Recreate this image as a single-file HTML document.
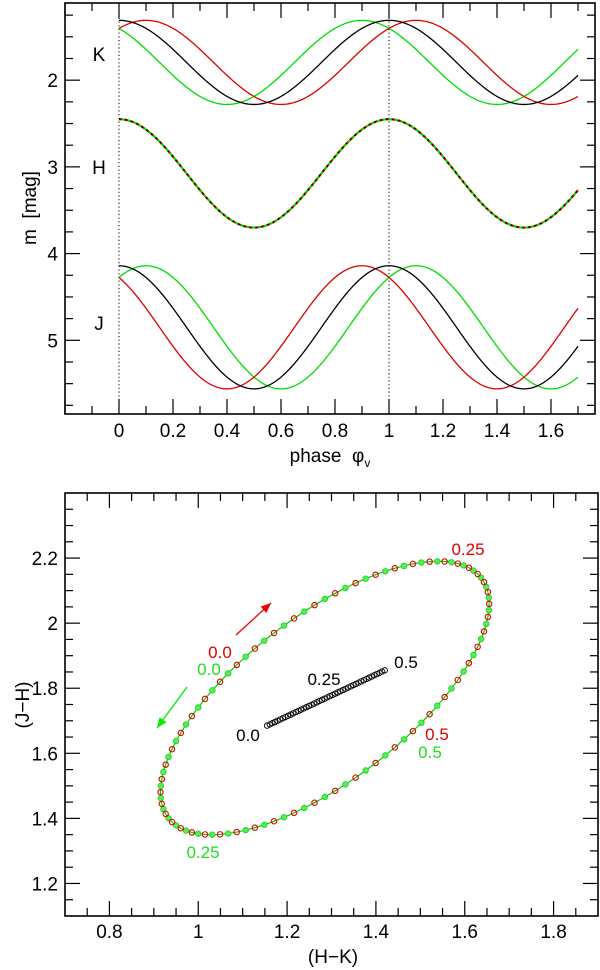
<!DOCTYPE html>
<html><head><meta charset="utf-8"><style>
html,body{margin:0;padding:0;background:#fff;}
svg{display:block;font-family:"Liberation Sans",sans-serif;}
</style></head><body>
<svg id="c" width="600" height="970" viewBox="0 0 600 970"></svg>
<script>
// ---- data: top panel light-curve model parameters ----
const bands = ['K','H','J'];
const bandMean = [1.795, 3.075, 4.85];
const bandAmp = [0.485, 0.625, 0.71];
const redShift = [0.1, 0, -0.1];
const greenShift = [-0.1, 0, 0.1];
const bandLabelY = [1.7, 3.0, 4.8];
const phaseTicks = [0,0.2,0.4,0.6,0.8,1,1.2,1.4,1.6];
const phaseTickLabels = ['0','0.2','0.4','0.6','0.8','1','1.2','1.4','1.6'];
const magTicks = [2,3,4,5];
// ---- data: bottom panel colour loop ----
const loopCenter = [1.285, 1.77];
const loopAmp = [0.37, 0.42];
const loopLag = [0.81];
const blackStart = [1.155, 1.685];
const blackEnd = [1.42, 1.855];
const hkTicks = [0.8,1,1.2,1.4,1.6,1.8];
const hkTickLabels = ['0.8','1','1.2','1.4','1.6','1.8'];
const jhTicks = [1.2,1.4,1.6,1.8,2,2.2];
const jhTickLabels = ['1.2','1.4','1.6','1.8','2','2.2'];

const NS='http://www.w3.org/2000/svg';
const svgRoot=document.getElementById('c');
function el(t,a,p){const e=document.createElementNS(NS,t);for(const k in a)e.setAttribute(k,a[k]);(p||svgRoot).appendChild(e);return e;}
function txt(s,x,y,a,p){const e=el('text',Object.assign({x:x,y:y,'font-size':19,'text-anchor':'middle'},a||{}),p);e.textContent=s;return e;}
const MAJ=15, MIN=8;

// top axes
const T={x0:65,x1:595,y0:3,y1:414,p0:-0.2,p1:1.763,m0:1.11,m1:5.85};
const px=p=>T.x0+(p-T.p0)/(T.p1-T.p0)*(T.x1-T.x0);
const my=m=>T.y0+(m-T.m0)/(T.m1-T.m0)*(T.y1-T.y0);
const topG=el('g',{});


for(let i=-2;i<=17;i++){const p=i/10,x=px(p),L=(i%2===0)?MAJ:MIN;
 el('line',{x1:x,x2:x,y1:T.y1,y2:T.y1-L,stroke:'#000','stroke-width':1.2},topG);
 el('line',{x1:x,x2:x,y1:T.y0,y2:T.y0+L,stroke:'#000','stroke-width':1.2},topG);}
for(let m=1.25;m<=5.8;m+=0.25){const y=my(m),L=(Math.abs(m-Math.round(m))<1e-6)?MAJ:MIN;
 el('line',{x1:T.x0,x2:T.x0+L,y1:y,y2:y,stroke:'#000','stroke-width':1.2},topG);
 el('line',{x1:T.x1,x2:T.x1-L,y1:y,y2:y,stroke:'#000','stroke-width':1.2},topG);}
phaseTicks.forEach((p,i)=>{const t=txt(phaseTickLabels[i],px(p),437,{},topG);
 });
magTicks.forEach(m=>{const t=txt(String(m),58,my(m)+7,{'text-anchor':'end'},topG);
 });
[0,1].forEach(p=>{const l=el('line',{x1:px(p),x2:px(p),y1:T.y0,y2:T.y1,stroke:'#000','stroke-dasharray':'1.2,2.5'},topG);
 });
function curve(b,shift,col,extra){let d='';for(let i=0;i<=340;i++){const p=i/200;
 const m=bandMean[b]-bandAmp[b]*Math.cos(2*Math.PI*(p-shift));d+=(i?'L':'M')+px(p).toFixed(2)+','+my(m).toFixed(2);}
 return el('path',Object.assign({d:d,fill:'none',stroke:col,'stroke-width':1.3},extra||{}),topG);}
bands.forEach((b,i)=>{
 const g=curve(i,greenShift[i],'#00dd00',i===1?{'stroke-width':2.2}:{});
 const r=curve(i,redShift[i],'#dd0000',i===1?{'stroke-dasharray':'3,3','stroke-width':2}:{});
 const k=curve(i,0,'#000',i===1?{'stroke-dasharray':'1.5,4.5','stroke-width':1.6}:{});
 const t=txt(b,99,my(bandLabelY[i])+7,{},topG);});
const fr1=el('rect',{x:T.x0,y:T.y0,width:T.x1-T.x0,height:T.y1-T.y0,fill:'none',stroke:'#000','stroke-width':1.6},topG);

const xt1=el('text',{x:330,y:462,'font-size':19,'text-anchor':'middle'},topG);

xt1.textContent='phase \u00a0φ';
const sub=el('tspan',{'font-size':12,dy:5},xt1);sub.textContent='v';
const yt1=txt('m\u00a0\u00a0[mag]',0,0,{transform:'translate(36,208) rotate(-90)'},topG);


// bottom axes
const B={x0:65,x1:598,y0:493,y1:916,a0:0.7,a1:1.9,b0:2.4,b1:1.1};
const hx=v=>B.x0+(v-B.a0)/(B.a1-B.a0)*(B.x1-B.x0);
const jy=v=>B.y0+(v-B.b0)/(B.b1-B.b0)*(B.y1-B.y0);
const botG=el('g',{});


for(let i=15;i<=37;i++){const v=i*0.05,x=hx(v),L=(i%4===0)?MAJ:MIN;
 el('line',{x1:x,x2:x,y1:B.y1,y2:B.y1-L,stroke:'#000','stroke-width':1.2},botG);el('line',{x1:x,x2:x,y1:B.y0,y2:B.y0+L,stroke:'#000','stroke-width':1.2},botG);}
for(let i=23;i<=47;i++){const v=i*0.05,y=jy(v),L=(i%4===0)?MAJ:MIN;
 el('line',{x1:B.x0,x2:B.x0+L,y1:y,y2:y,stroke:'#000','stroke-width':1.2},botG);el('line',{x1:B.x1,x2:B.x1-L,y1:y,y2:y,stroke:'#000','stroke-width':1.2},botG);}
hkTicks.forEach((v,i)=>{const t=txt(hkTickLabels[i],hx(v),938,{},botG);});
jhTicks.forEach((v,i)=>{const t=txt(jhTickLabels[i],58,jy(v)+7,{'text-anchor':'end'},botG);});
let dd='';for(let i=0;i<=200;i++){const t=2*Math.PI*i/200;
 dd+=(i?'L':'M')+hx(loopCenter[0]+loopAmp[0]*Math.cos(t)).toFixed(2)+','+jy(loopCenter[1]+loopAmp[1]*Math.cos(t-loopLag[0])).toFixed(2);}
const lp=el('path',{d:dd,fill:'none',stroke:'#00cc00','stroke-width':1.2},botG);

const N=50;
for(let i=0;i<N;i++){const t=2*Math.PI*(i+0.5)/N;
 const c=el('circle',{cx:hx(loopCenter[0]+loopAmp[0]*Math.cos(t)),cy:jy(loopCenter[1]+loopAmp[1]*Math.cos(t-loopLag[0])),r:2.8,fill:'#55ee55',stroke:'#22cc22','stroke-width':0.8},botG);
 }
for(let i=0;i<N;i++){const t=2*Math.PI*i/N;
 const c=el('circle',{cx:hx(loopCenter[0]+loopAmp[0]*Math.cos(t)),cy:jy(loopCenter[1]+loopAmp[1]*Math.cos(t-loopLag[0])),r:2.7,fill:'none',stroke:'#dd0000','stroke-width':1.1},botG);
 }
for(let i=0;i<=45;i++){const f=i/45;
 const c=el('circle',{cx:hx(blackStart[0]+(blackEnd[0]-blackStart[0])*f),cy:jy(blackStart[1]+(blackEnd[1]-blackStart[1])*f),r:2.7,fill:'none',stroke:'#000','stroke-width':0.9},botG);
 }
function arrow(x1,y1,x2,y2,col,name){const g=el('g',{},botG);
 el('line',{x1:x1,y1:y1,x2:x2,y2:y2,stroke:col,'stroke-width':1.3},g);
 const a=Math.atan2(y2-y1,x2-x1),L=11,w=0.4;
 el('polygon',{points:`${x2},${y2} ${x2-L*Math.cos(a-w)},${y2-L*Math.sin(a-w)} ${x2-L*Math.cos(a+w)},${y2-L*Math.sin(a+w)}`,fill:col},g);}
arrow(236,635,271,603,'#ee0000','red-arrow');
arrow(187,687,157,728,'#00ee00','green-arrow');
const labs=[['0.0',220,658,'#e00000'],['0.0',209,675,'#22dd22'],['0.0',248,741,'#000'],['0.25',324,685,'#000'],['0.5',406,668,'#000'],
 ['0.25',468,555,'#e00000'],['0.5',437,740,'#e00000'],['0.5',430,758,'#22dd22'],['0.25',203,858,'#22dd22']];
labs.forEach(l=>{const t=txt(l[0],l[1],l[2],{fill:l[3],'font-size':17},botG);});
const fr2=el('rect',{x:B.x0,y:B.y0,width:B.x1-B.x0,height:B.y1-B.y0,fill:'none',stroke:'#000','stroke-width':1.6},botG);

const xt2=txt('(H−K)',333,963,{},botG);
const yt2=txt('(J−H)',0,0,{transform:'translate(29,705) rotate(-90)'},botG);
</script>
</body></html>
